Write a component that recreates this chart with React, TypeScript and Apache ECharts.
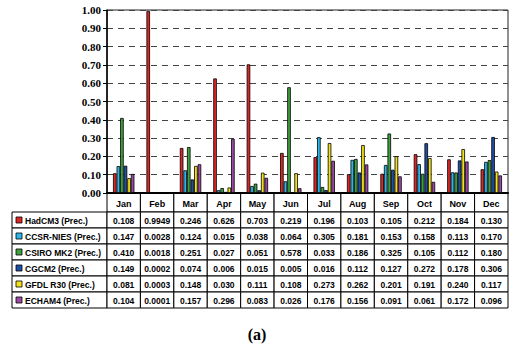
import React, { useEffect, useRef } from "react";
import * as echarts from "echarts";

const months = ["Jan", "Feb", "Mar", "Apr", "May", "Jun", "Jul", "Aug", "Sep", "Oct", "Nov", "Dec"];
const monthDecimals = [3, 4, 3, 3, 3, 3, 3, 3, 3, 3, 3, 3];
const seriesNames = [
  "HadCM3 (Prec.)",
  "CCSR-NIES (Prec.)",
  "CSIRO MK2 (Prec.)",
  "CGCM2 (Prec.)",
  "GFDL R30 (Prec.)",
  "ECHAM4 (Prec.)",
];
const hadcm3 = [0.108, 0.9949, 0.246, 0.626, 0.703, 0.219, 0.196, 0.103, 0.105, 0.212, 0.184, 0.13];
const ccsrNies = [0.147, 0.0028, 0.124, 0.015, 0.038, 0.064, 0.305, 0.181, 0.153, 0.158, 0.113, 0.17];
const csiroMk2 = [0.41, 0.0018, 0.251, 0.027, 0.051, 0.578, 0.033, 0.186, 0.325, 0.105, 0.112, 0.18];
const cgcm2 = [0.149, 0.0002, 0.074, 0.006, 0.015, 0.005, 0.016, 0.112, 0.127, 0.272, 0.178, 0.306];
const gfdlR30 = [0.081, 0.0003, 0.148, 0.03, 0.111, 0.108, 0.273, 0.262, 0.201, 0.191, 0.24, 0.117];
const echam4 = [0.104, 0.0001, 0.157, 0.296, 0.083, 0.026, 0.176, 0.156, 0.091, 0.061, 0.172, 0.096];
const seriesData = [hadcm3, ccsrNies, csiroMk2, cgcm2, gfdlR30, echam4];
const seriesColors = ["#e02424", "#2cb6ec", "#3ea03e", "#1f4ea6", "#f2e21a", "#9a4aa4"];
const caption = "(a)";

const W = 513;
const H = 349;
const GL = 107;
const GR = 508;
const GT = 10;
const GB = 193;
const SANS = "Liberation Sans";
const SERIF = "Liberation Serif";

export default function App() {
  const ref = useRef<HTMLDivElement>(null);
  useEffect(() => {
    if (!ref.current) return;
    const chart = echarts.init(ref.current, null, { renderer: "svg", width: W, height: H });
    const colW = (GR - GL) / months.length;
    const headerH = 19;
    const rowH = 16;
    const tableTop = GB;
    const legendLeft = 12;
    const graphics: any[] = [];
    const txt = (x: number, y: number, text: string, size: number, align: string, family = SANS) => ({
      type: "text",
      x,
      y,
      style: {
        text,
        fontFamily: family,
        fontWeight: "bold",
        fontSize: size,
        fill: "#000",
        align,
        verticalAlign: "middle",
      },
    });
    months.forEach((m, i) => {
      graphics.push({
        type: "rect",
        shape: { x: GL + i * colW, y: tableTop, width: colW, height: headerH },
        style: { fill: "#fff", stroke: "#000", lineWidth: 1 },
      });
      graphics.push(txt(GL + i * colW + colW / 2, tableTop + headerH / 2 + 1, m, 9, "center"));
    });
    seriesNames.forEach((name, r) => {
      const y = tableTop + headerH + r * rowH;
      graphics.push({
        type: "rect",
        shape: { x: legendLeft, y, width: GL - legendLeft, height: rowH },
        style: { fill: "#fff", stroke: "#000", lineWidth: 1 },
      });
      graphics.push({
        type: "rect",
        shape: { x: legendLeft + 4, y: y + rowH / 2 - 3, width: 6, height: 6 },
        style: { fill: seriesColors[r], stroke: "#000", lineWidth: 0.8 },
      });
      graphics.push(txt(legendLeft + 13, y + rowH / 2 + 1, name, 8.5, "left"));
      seriesData[r].forEach((v, i) => {
        graphics.push({
          type: "rect",
          shape: { x: GL + i * colW, y, width: colW, height: rowH },
          style: { fill: "#fff", stroke: "#000", lineWidth: 1 },
        });
        graphics.push(txt(GL + i * colW + colW / 2, y + rowH / 2 + 1, v.toFixed(monthDecimals[i]), 8.5, "center"));
      });
    });
    graphics.push(txt(257, 334, caption, 16, "center", SERIF));

    chart.setOption({
      animation: false,
      grid: {
        left: GL,
        right: W - GR,
        top: GT,
        bottom: H - GB,
        show: true,
        borderColor: "#222",
        borderWidth: 1,
        backgroundColor: "#fff",
      },
      xAxis: {
        type: "category",
        data: months,
        axisLabel: { show: false },
        axisTick: { show: false },
        axisLine: { show: true, lineStyle: { color: "#000", width: 2 } },
      },
      yAxis: {
        type: "value",
        min: 0,
        max: 1,
        interval: 0.1,
        axisLine: { show: true, lineStyle: { color: "#000", width: 1.5 } },
        axisTick: { show: true, length: 4, lineStyle: { color: "#000" } },
        axisLabel: {
          formatter: (v: number) => v.toFixed(2),
          fontFamily: SERIF,
          fontWeight: "bold",
          fontSize: 11,
          color: "#000",
          margin: 6,
        },
        splitLine: { show: true, lineStyle: { color: "#444", type: [6, 5], width: 1 } },
      },
      series: seriesNames.map((n, i) => ({
        name: n,
        type: "bar",
        data: seriesData[i],
        barGap: "0%",
        barCategoryGap: "36%",
        itemStyle: { color: seriesColors[i], borderColor: "#000", borderWidth: 0.8 },
      })),
      graphic: graphics,
    });
    return () => chart.dispose();
  }, []);
  return (
    <div
      ref={ref}
      style={{ position: "fixed", left: 0, top: 0, width: W, height: H, background: "#fff" }}
    />
  );
}
